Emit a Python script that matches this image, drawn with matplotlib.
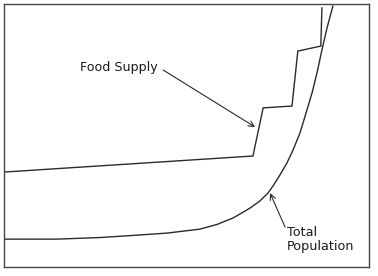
import matplotlib
matplotlib.use("Agg")
import matplotlib.pyplot as plt

# Food supply: stepwise increases (arbitrary units, x = time, y = amount)
food_x = [0.0, 68.2, 71.0, 78.9, 80.5, 86.8, 87.1]
food_y = [36.1, 42.2, 60.5, 61.2, 82.1, 84.0, 98.5]

# Total population: exponential-looking growth
pop_x = [0.0, 14.5, 26.3, 35.3, 44.7, 53.7, 58.4, 62.7, 64.7, 67.4, 70.1,
         72.3, 73.7, 75.6, 77.5, 79.2, 81.1, 83.0, 84.4, 85.8, 87.1, 88.5, 90.1]
pop_y = [10.6, 10.6, 11.2, 12.0, 12.9, 14.4, 16.2, 18.6, 20.2, 22.4, 25.1,
         28.1, 30.8, 35.0, 39.5, 44.5, 51.0, 59.7, 66.2, 74.1, 82.5, 90.9, 99.2]

food_label = "Food Supply"
pop_label = "Total\nPopulation"

W, H = 378, 276
fig = plt.figure(figsize=(W / 100, H / 100), dpi=100)
fig.patch.set_facecolor("white")
ax = fig.add_axes([4 / W, (H - 267) / H, 365 / W, 263 / H])
ax.set_xlim(0, 100)
ax.set_ylim(0, 100)
ax.set_xticks([])
ax.set_yticks([])
for s in ax.spines.values():
    s.set_color("#444444")
    s.set_linewidth(1.0)

lc = "#2a2a2a"
ax.plot(food_x, food_y, color=lc, lw=1.0, solid_joinstyle="miter")
ax.plot(pop_x, pop_y, color=lc, lw=1.0)

tc = "#1a1a1a"
ax.text(31.4, 75.7, food_label, ha="center", va="center", fontsize=9.1, color=tc)
ax.text(77.5, 10.5, pop_label, ha="left", va="center", fontsize=9.2,
        color=tc, linespacing=1.15)

arrow = dict(arrowstyle="->", color=lc, lw=0.8, shrinkA=0, shrinkB=0)
ax.annotate("", xy=(68.8, 53.2), xytext=(43.6, 74.9), arrowprops=arrow)
ax.annotate("", xy=(72.9, 28.1), xytext=(77.0, 15.2), arrowprops=arrow)

fig.savefig("out.png", dpi=100, facecolor="white")
